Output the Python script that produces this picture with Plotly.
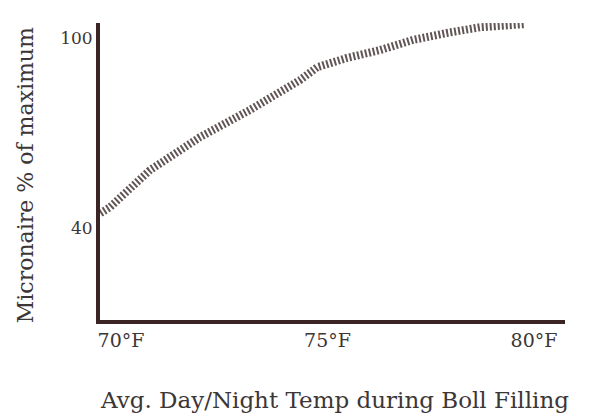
import plotly.graph_objects as go

# Data
temp_f = [69.5, 69.73, 70.7, 71.91, 73.12, 74.33, 74.75, 75.47, 76.27, 77.07, 77.89, 78.69, 79.78]
micronaire_pct = [44.7, 46.6, 58.3, 68.7, 77.3, 86.7, 90.8, 93.7, 96.2, 99.4, 101.6, 103.4, 104.4]
x_ticks = [70, 75, 80]
x_tick_labels = ["70°F", "75°F", "80°F"]
y_ticks = [40, 100]
y_tick_labels = ["40", "100"]

FONT = "DejaVu Serif"
TXT = "#3d3636"
AX = "#3b2424"

fig = go.Figure()
fig.add_trace(go.Scatter(
    x=temp_f, y=micronaire_pct, mode="lines",
    line=dict(color="#615555", width=8, dash="2px,2px"),
    cliponaxis=False, hoverinfo="skip", showlegend=False,
))

fig.update_layout(
    width=581, height=408,
    margin=dict(l=92, r=24, t=15, b=96),
    paper_bgcolor="white", plot_bgcolor="white",
    font=dict(family=FONT, color=TXT, size=18),
    xaxis=dict(
        range=[69.49, 80.75], showgrid=False, zeroline=False,
        showline=True, linecolor=AX, linewidth=4,
        tickvals=x_ticks, ticktext=x_tick_labels, ticks="",
        tickfont=dict(family=FONT, size=19, color=TXT),
    ),
    yaxis=dict(
        range=[11, 104.74], showgrid=False, zeroline=False,
        showline=True, linecolor=AX, linewidth=4,
        tickvals=y_ticks, ticktext=y_tick_labels, ticks="",
        tickfont=dict(family=FONT, size=17, color=TXT),
    ),
    annotations=[
        dict(text="Micronaire % of maximum", xref="paper", yref="paper",
             x=-0.161, y=0.488, xanchor="center", yanchor="middle", textangle=-90,
             showarrow=False, font=dict(family=FONT, size=22, color=TXT)),
        dict(text="Avg. Day/Night Temp during Boll Filling", xref="paper", yref="paper",
             x=0.505, y=-0.269, xanchor="center", yanchor="middle",
             showarrow=False, font=dict(family=FONT, size=23, color=TXT)),
    ],
)

fig.write_html("out.html")
